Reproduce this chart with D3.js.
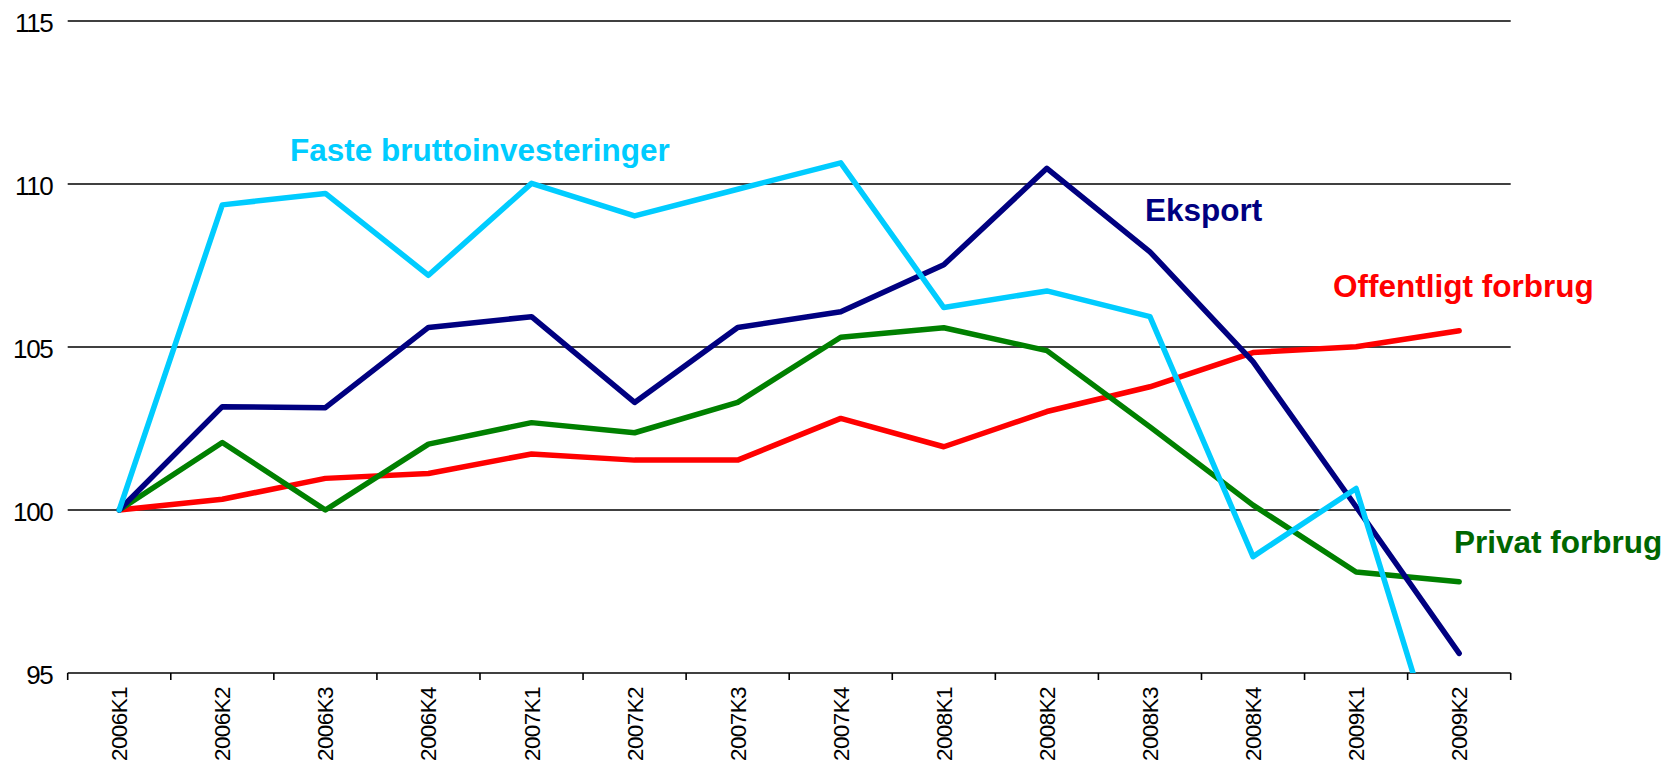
<!DOCTYPE html>
<html>
<head>
<meta charset="utf-8">
<script src="https://cdn.jsdelivr.net/npm/d3@7"></script>
<style>
  html, body { margin: 0; padding: 0; background: #fff; }
  svg { display: block; font-family: Arial, "Liberation Sans", sans-serif; }
</style>
</head>
<body>
<svg id="chart" width="1668" height="763"></svg>
<script>
const categories = ["2006K1","2006K2","2006K3","2006K4","2007K1","2007K2","2007K3","2007K4","2008K1","2008K2","2008K3","2008K4","2009K1","2009K2"];
const offentligt = [100, 100.33, 100.97, 101.12, 101.72, 101.53, 101.53, 102.81, 101.94, 103.02, 103.78, 104.83, 105.01, 105.5];
const privat     = [100, 102.07, 100.0, 102.02, 102.68, 102.37, 103.3, 105.3, 105.59, 104.89, 102.55, 100.15, 98.1, 97.8];
const eksport    = [100, 103.17, 103.14, 105.6, 105.93, 103.3, 105.6, 106.08, 107.52, 110.48, 107.92, 104.55, 100.1, 95.6];
const faste      = [100, 109.36, 109.71, 107.2, 110.02, 109.02, 109.84, 110.65, 106.21, 106.72, 105.93, 98.57, 100.66, 90.4];
const yTicks = [95, 100, 105, 110, 115];

const seriesNames = ["Offentligt forbrug", "Privat forbrug", "Eksport", "Faste bruttoinvesteringer"];
const seriesValues = [offentligt, privat, eksport, faste];
const lineColors = ["#FF0000", "#008000", "#000080", "#00CCFF"];
const labelColors = ["#FF0000", "#006600", "#000080", "#00CCFF"];
const labelPos = [[1333, 297], [1454, 553], [1145, 221], [290, 161]];

const L = 67.7, R = 1510.7, T = 21, B = 673;
const svg = d3.select("#chart");
const x = d3.scaleBand().domain(categories).range([L, R]).padding(0);
const y = d3.scaleLinear().domain([95, 115]).range([B, T]);

// gridlines
svg.append("g").selectAll("line").data(yTicks.filter(d => d !== 95)).join("line")
  .attr("x1", L).attr("x2", R)
  .attr("y1", d => y(d)).attr("y2", d => y(d))
  .attr("stroke", "#000").attr("stroke-width", 1.4);

// y labels
svg.append("g").selectAll("text").data(yTicks).join("text")
  .attr("x", 52.5).attr("y", d => y(d) + 11)
  .attr("text-anchor", "end")
  .attr("font-size", 26).attr("letter-spacing", -1.3)
  .attr("fill", "#000")
  .text(d => d);

// x axis
const xAxis = d3.axisBottom(x).tickSize(0).tickFormat("");
const gx = svg.append("g").attr("transform", `translate(0,${B})`).call(xAxis);
gx.select(".domain").remove();
svg.append("line").attr("x1", L).attr("x2", R).attr("y1", B).attr("y2", B)
  .attr("stroke", "#000").attr("stroke-width", 1.6);
const boundaries = categories.map(c => x(c)).concat([x(categories[categories.length-1]) + x.bandwidth()]);
svg.append("g").selectAll("line").data(boundaries).join("line")
  .attr("x1", d => d).attr("x2", d => d)
  .attr("y1", B).attr("y2", B + 7)
  .attr("stroke", "#000").attr("stroke-width", 1.6);

svg.append("g").selectAll("text").data(categories).join("text")
  .attr("transform", d => `translate(${x(d) + x.bandwidth()/2 + 8},${B + 14}) rotate(-90)`)
  .attr("text-anchor", "end")
  .attr("font-size", 22.5).attr("letter-spacing", -0.6)
  .attr("fill", "#000")
  .text(d => d);

// clip
svg.append("clipPath").attr("id", "plotclip").append("rect")
  .attr("x", 0).attr("y", T - 10).attr("width", 1668).attr("height", B - T + 10);

const line = d3.line()
  .x((d, i) => x(categories[i]) + x.bandwidth()/2)
  .y(d => y(d));

const lg = svg.append("g").attr("clip-path", "url(#plotclip)");
seriesValues.forEach((vals, k) => {
  lg.append("path").datum(vals)
    .attr("d", line)
    .attr("fill", "none")
    .attr("stroke", lineColors[k])
    .attr("stroke-width", 5.5)
    .attr("stroke-linejoin", "round")
    .attr("stroke-linecap", "round");
});

// series labels
svg.append("g").selectAll("text").data(seriesNames).join("text")
  .attr("x", (d, i) => labelPos[i][0]).attr("y", (d, i) => labelPos[i][1])
  .attr("font-size", 31.5).attr("font-weight", "bold")
  .attr("fill", (d, i) => labelColors[i])
  .text(d => d);
</script>
</body>
</html>
